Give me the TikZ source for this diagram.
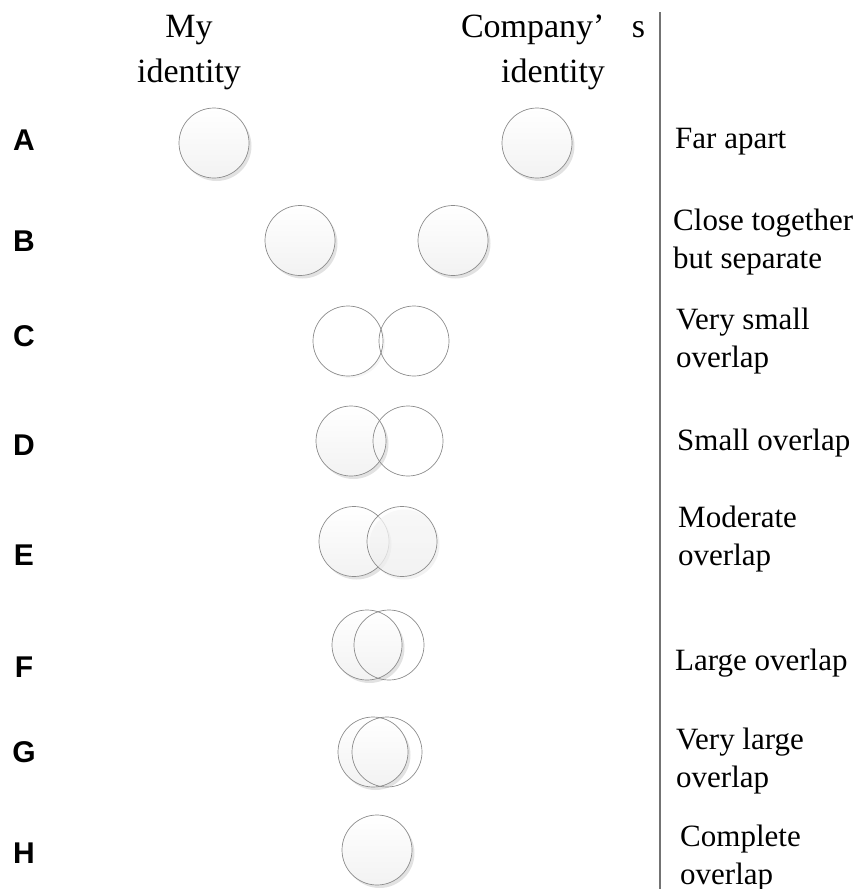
\documentclass[tikz,border=0pt]{standalone}
\usepackage{fontspec}
\setmainfont{Liberation Serif}
\setsansfont{Liberation Sans}
\usetikzlibrary{shadows}
\begin{document}
\begin{tikzpicture}[x=1pt,y=-1pt,
  circbase/.style={circle,minimum size=70pt,inner sep=0pt,draw=black!45,line width=0.7pt},
  filled/.style={circbase,top color=white,bottom color=black!5,
     drop shadow={shadow xshift=2.5pt,shadow yshift=-3pt,fill=black!14,opacity=0.8}},
  halffilled/.style={circbase,top color=white,bottom color=black!5,fill opacity=0.55,
     drop shadow={shadow xshift=2.5pt,shadow yshift=-3pt,fill=black!10,opacity=0.5}},
  ring/.style={circbase,fill=none},
  whitering/.style={circbase,fill=white,
     drop shadow={shadow xshift=2pt,shadow yshift=-2pt,fill=black!6,opacity=0.6}},
  header/.style={font=\fontsize{34}{45}\selectfont,align=center,inner sep=0pt},
  lab/.style={font=\fontsize{31}{38}\selectfont,align=left,anchor=base west,inner sep=0pt},
  letter/.style={font=\sffamily\bfseries\fontsize{30}{36}\selectfont,inner sep=0pt}]
\useasboundingbox (0,0) rectangle (857,889);

% headers (anchor = baseline of last line)
\node[header,anchor=base] (hmy) at (189,82) {My\\identity};
\node[header,anchor=base] (hco) at (553,82) {Company’\hspace{0.8em}s\\identity};

% vertical divider
\coordinate (vtop) at (660,12);
\coordinate (vbot) at (660,889);
\draw[black!55,line width=2.6pt] (vtop) -- (vbot);

% row letters
\node[letter] (lA) at (24,140) {A};
\node[letter] (lB) at (24,241) {B};
\node[letter] (lC) at (24,336) {C};
\node[letter] (lD) at (24,445) {D};
\node[letter] (lE) at (24,555) {E};
\node[letter] (lF) at (24,667) {F};
\node[letter] (lG) at (24,752) {G};
\node[letter] (lH) at (24,853) {H};

% A
\node[filled] (a1) at (214,143) {};
\node[filled] (a2) at (537,143) {};
% B
\node[filled] (b1) at (300,240.5) {};
\node[filled] (b2) at (453,240.5) {};
% C
\node[whitering] (c1) at (348,341) {};
\node[ring] (c2) at (414,341) {};
% D
\node[filled] (d1) at (351,441) {};
\node[ring] (d2) at (408,441) {};
% E
\node[filled] (e1) at (354,541.5) {};
\node[halffilled] (e2) at (402,541.5) {};
% F
\node[filled] (f1) at (367,645) {};
\node[ring] (f2) at (389,645) {};
% G
\node[filled] (g1) at (373,752) {};
\node[ring] (g2) at (387,752) {};
% H
\node[filled] (h1) at (377,850) {};

% right labels (anchor = baseline of last line)
\node[lab] (tA) at (675,148) {Far apart};
\node[lab] (tB) at (673,268) {Close together\\but separate};
\node[lab] (tC) at (676,367) {Very small\\overlap};
\node[lab] (tD) at (677,450) {Small overlap};
\node[lab] (tE) at (678,565) {Moderate\\overlap};
\node[lab] (tF) at (675,670) {Large overlap};
\node[lab] (tG) at (676,787) {Very large\\overlap};
\node[lab] (tH) at (680,884) {Complete\\overlap};
\end{tikzpicture}
\end{document}
